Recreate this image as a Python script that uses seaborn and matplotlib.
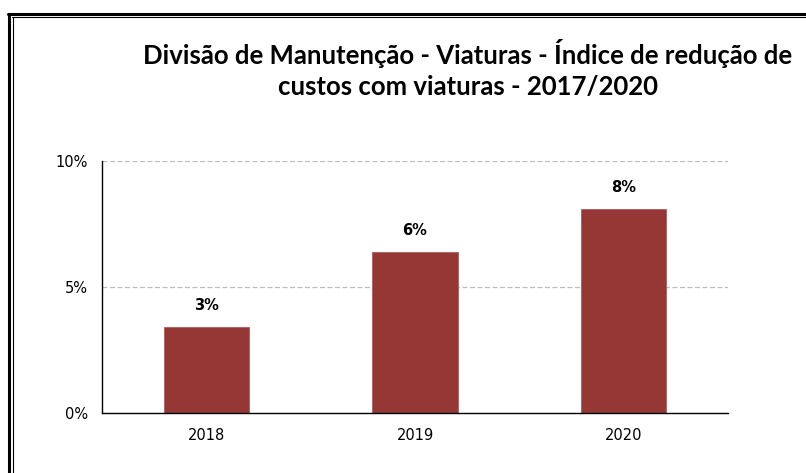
import matplotlib.pyplot as plt
from matplotlib.lines import Line2D
from matplotlib.ticker import FuncFormatter, FixedLocator
import seaborn as sns

# Data
years = ["2018", "2019", "2020"]
reduction = [3.4, 6.4, 8.1]
labels = ["3%", "6%", "8%"]

sns.set_style("white")
plt.rcParams["font.family"] = ["DejaVu Sans"]
plt.rcParams["text.color"] = "black"
plt.rcParams["xtick.color"] = "black"
plt.rcParams["ytick.color"] = "black"

W, H = 806, 473
fig = plt.figure(figsize=(W / 100, H / 100), dpi=100)
ax = fig.add_axes([102 / W, 1 - 413 / H, (728 - 102) / W, (413 - 161) / H])

sns.barplot(x=years, y=reduction, color="#953735", width=0.41,
            edgecolor="#b05a58", linewidth=0.6, saturation=1, ax=ax)

ax.set_ylim(0, 10)
ax.set_xlim(-0.5, 2.5)
ax.set_yticks([0, 5, 10])
ax.yaxis.set_major_formatter(FuncFormatter(lambda v, p: f"{v:.0f}%"))
for yv in [5, 10]:
    ax.axhline(yv, color="#bdbdbd", linestyle=(0, (4, 2)), linewidth=0.9, zorder=0)

# category boundary ticks on the x axis
ax.xaxis.set_major_locator(FixedLocator([0, 1, 2]))
ax.xaxis.set_minor_locator(FixedLocator([-0.5, 0.5, 1.5, 2.5]))
ax.tick_params(axis="x", which="major", length=0, labelsize=10.5, pad=11)
ax.tick_params(axis="x", which="minor", length=5, width=1, color="black", direction="out")
ax.tick_params(axis="y", length=5, width=1, color="black", direction="out", labelsize=10.5, pad=5)
ax.set(xlabel="", ylabel="")

for side in ["top", "right"]:
    ax.spines[side].set_visible(False)
for side in ["left", "bottom"]:
    ax.spines[side].set_color("black")
    ax.spines[side].set_linewidth(1)

# value labels
for bar, text in zip(ax.patches, labels):
    ax.text(bar.get_x() + bar.get_width() / 2, bar.get_height() + 0.55, text,
            ha="center", va="bottom", fontsize=10.5, fontweight="bold", color="black")

fig.text(468 / W, 1 - 69 / H,
         "Divisão de Manutenção - Viaturas - Índice de redução de\ncustos com viaturas - 2017/2020",
         ha="center", va="center", fontsize=18.5, fontweight="bold", linespacing=1.35,
         family=["Lato", "DejaVu Sans"], color="black")

# double frame line around chart area
def px_line(x0, y0, x1, y1, lw):
    fig.add_artist(Line2D([x0 / W, x1 / W], [1 - y0 / H, 1 - y1 / H],
                          transform=fig.transFigure, color="black", linewidth=lw))

px_line(8, 14, W, 14, 2.2)
px_line(9, 14, 9, H, 2.2)
px_line(12, 17, W, 17, 0.8)
px_line(12.5, 17, 12.5, H, 0.8)

fig.savefig("out.png", dpi=100)
